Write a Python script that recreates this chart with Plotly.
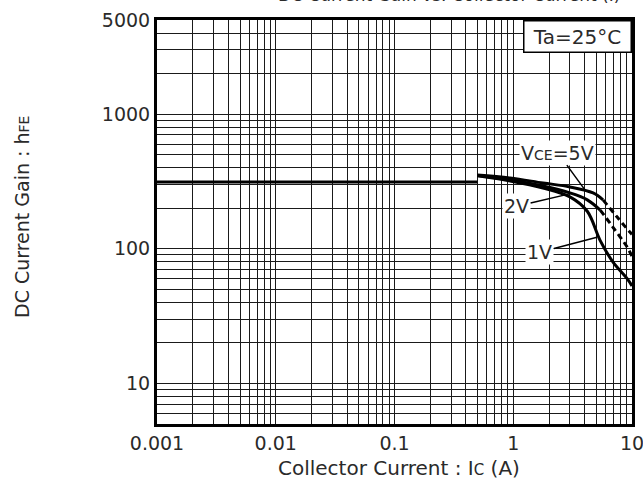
import plotly.graph_objects as go
import numpy as np

# ---- data ----
ic_5v = [0.5, 0.94, 1.78, 3.0, 4.7, 5.7, 7.5, 9.6, 10]
hfe_5v = [353, 336, 308, 288, 260, 231, 172, 133, 128]
ic_2v = [0.5, 0.94, 1.78, 3.0, 4.2, 5.4, 6.9, 9.1, 10]
hfe_2v = [350, 324, 293, 260, 231, 194, 145, 103, 88]
ic_1v = [0.5, 0.94, 1.78, 3.0, 4.2, 5.4, 6.9, 9.1, 10]
hfe_1v = [348, 319, 283, 243, 190, 115, 80, 60, 53]
dash_from_5v = 5.7
dash_from_2v = 5.4
dash_from_1v = 99  # solid throughout
ic_flat = [0.001, 0.5]
hfe_flat = [313, 313]

x_ticks = [0.001, 0.01, 0.1, 1, 10]
x_ticklabels = ["0.001", "0.01", "0.1", "1", "10"]
y_ticks = [10, 100, 1000, 5000]
y_ticklabels = ["10", "100", "1000", "5000"]

FONT = "DejaVu Sans, Liberation Sans, Arial, sans-serif"
TXT = "#2a2a2a"

fig = go.Figure()

def add_curve(ic, hfe, split):
    ic = list(ic); hfe = list(hfe)
    solid_x = [x for x in ic if x <= split]
    solid_y = hfe[:len(solid_x)]
    fig.add_trace(go.Scatter(x=solid_x, y=solid_y, mode="lines",
                             line=dict(color="black", width=3, shape="spline"),
                             showlegend=False, hoverinfo="skip"))
    if len(solid_x) < len(ic):
        k = len(solid_x) - 1
        fig.add_trace(go.Scatter(x=ic[k:], y=hfe[k:], mode="lines",
                                 line=dict(color="black", width=3, dash="6px,4px", shape="spline"),
                                 showlegend=False, hoverinfo="skip"))

fig.add_trace(go.Scatter(x=ic_flat, y=hfe_flat, mode="lines",
                         line=dict(color="black", width=3),
                         showlegend=False, hoverinfo="skip"))
add_curve(ic_5v, hfe_5v, dash_from_5v)
add_curve(ic_2v, hfe_2v, dash_from_2v)
add_curve(ic_1v, hfe_1v, dash_from_1v)

grid = dict(showgrid=True, gridcolor="#1a1a1a", gridwidth=1.4)

fig.update_xaxes(type="log", range=[np.log10(0.001), np.log10(10)],
                 tickvals=x_ticks, ticktext=x_ticklabels, automargin=False,
                 ticklabeloverflow="allow",
                 ticks="", showline=True, mirror=True, linecolor="black", linewidth=3,
                 minor=dict(dtick="D1", ticks="", **grid), **grid,
                 tickfont=dict(family=FONT, size=19, color=TXT), zeroline=False)
fig.update_yaxes(type="log", range=[np.log10(5), np.log10(5000)],
                 tickvals=y_ticks, ticktext=y_ticklabels, automargin=False,
                 ticklabeloverflow="allow",
                 ticks="", showline=True, mirror=True, linecolor="black", linewidth=3,
                 minor=dict(dtick="D1", ticks="", **grid), **grid,
                 tickfont=dict(family=FONT, size=19, color=TXT), zeroline=False)

ann = []
ann.append(dict(text="DC Current Gain vs. Collector Current (I)", xref="paper", yref="paper",
                x=0.615, y=1, xanchor="center", yanchor="bottom", yshift=13, showarrow=False,
                font=dict(family=FONT, size=17, color=TXT)))
ann.append(dict(text="Collector Current : I<span style='font-size:15px'>C</span> (A)", xref="paper", yref="paper",
                x=0.5, y=0, xanchor="center", yanchor="middle", xshift=4, yshift=-44, showarrow=False,
                font=dict(family=FONT, size=20, color=TXT)))
ann.append(dict(text="DC Current Gain : h<span style='font-size:14px'>FE</span>", xref="paper", yref="paper",
                x=0, y=0.5, xanchor="center", yanchor="middle", xshift=-135, yshift=5, textangle=-90,
                showarrow=False, font=dict(family=FONT, size=19, color=TXT)))
ann.append(dict(text="&nbsp;Ta=25°C&nbsp;", xref="paper", yref="paper", x=1, y=1, xanchor="right", yanchor="top",
                showarrow=False, bgcolor="white", bordercolor="black", borderwidth=1.5, borderpad=3,
                font=dict(family=FONT, size=20, color=TXT)))
# curve labels
ann.append(dict(text="V<span style='font-size:14px'>CE</span>=5V", x=np.log10(4.0), y=np.log10(275),
                ax=-27, ay=-37, showarrow=True, arrowhead=0, arrowwidth=1.5, arrowcolor="black",
                bgcolor="white", font=dict(family=FONT, size=19, color=TXT)))
ann.append(dict(text="2V", x=np.log10(3.1), y=np.log10(258), ax=-55, ay=13,
                showarrow=True, arrowhead=0, arrowwidth=1.5, arrowcolor="black",
                bgcolor="white", font=dict(family=FONT, size=19, color=TXT)))
ann.append(dict(text="1V", x=np.log10(5.07), y=np.log10(122), ax=-57, ay=15,
                showarrow=True, arrowhead=0, arrowwidth=1.5, arrowcolor="black",
                bgcolor="white", font=dict(family=FONT, size=19, color=TXT)))

fig.update_layout(width=643, height=483, margin=dict(l=157, r=11, t=20, b=59),
                  plot_bgcolor="white", paper_bgcolor="white", annotations=ann,
                  showlegend=False)

fig.write_html("out.html", config={"displayModeBar": False},
               post_script="document.body.style.margin='0px';")
